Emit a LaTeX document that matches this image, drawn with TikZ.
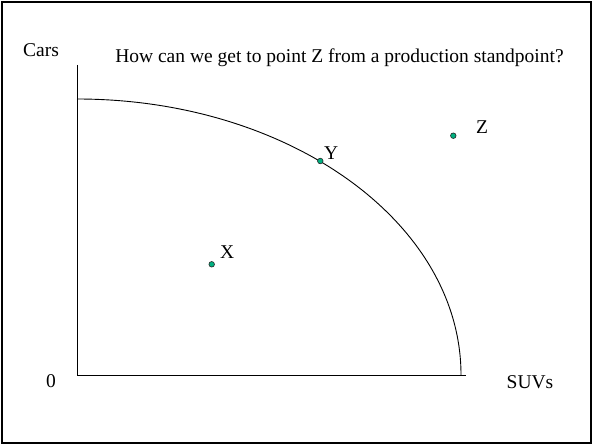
\documentclass[tikz,border=0pt]{standalone}
\usepackage{fontspec}
\setmainfont{Liberation Serif}
\usepackage{tikz}
\usetikzlibrary{positioning}
\definecolor{Dot}{HTML}{00B080}
\definecolor{Ink}{HTML}{000000}

\begin{document}
\begin{tikzpicture}[
  x=1pt,y=1pt,
  every node/.style={font=\fontsize{19.5}{23}\selectfont,inner sep=0pt},
  axis/.style={draw=Ink,line width=0.9pt},
  ppf/.style={draw=Ink,line width=0.9pt},
  pt/.style={circle,fill=Dot,draw=Ink!85,line width=0.6pt,minimum size=5.6pt},
  lbl/.style={anchor=base west}
]
\useasboundingbox (0,0) rectangle (593,445);
\draw[line width=2.4pt] (2,2) rectangle (591,443);
% axes
\coordinate (orig) at (77,70);
\coordinate (ytop) at (77,380);
\coordinate (xend) at (466,70);
\draw[axis] (ytop)--(orig)--(xend);
% frontier
\coordinate (ppftop) at (77,346);
\draw[ppf] (ppftop) arc[start angle=90,end angle=0,x radius=384,y radius=276];
% points
\node[pt] (X) at (211.7,180.7) {};
\node[pt] (Y) at (320.3,284) {};
\node[pt] (Z) at (453.3,309.3) {};
\node[lbl] (Xlbl) at (220,187) {X};
\node[lbl] (Ylbl) at (324,286) {Y};
\node[lbl] (Zlbl) at (476,311) {Z};
% texts
\node[anchor=base] (title) at (339.5,382) {How can we get to point Z from a production standpoint?};
\node[anchor=base] (cars) at (41,388) {Cars};
\node[anchor=base] (zero) at (51,58) {0};
\node[anchor=base] (suvs) at (530,57) {SUVs};
\end{tikzpicture}
\end{document}
